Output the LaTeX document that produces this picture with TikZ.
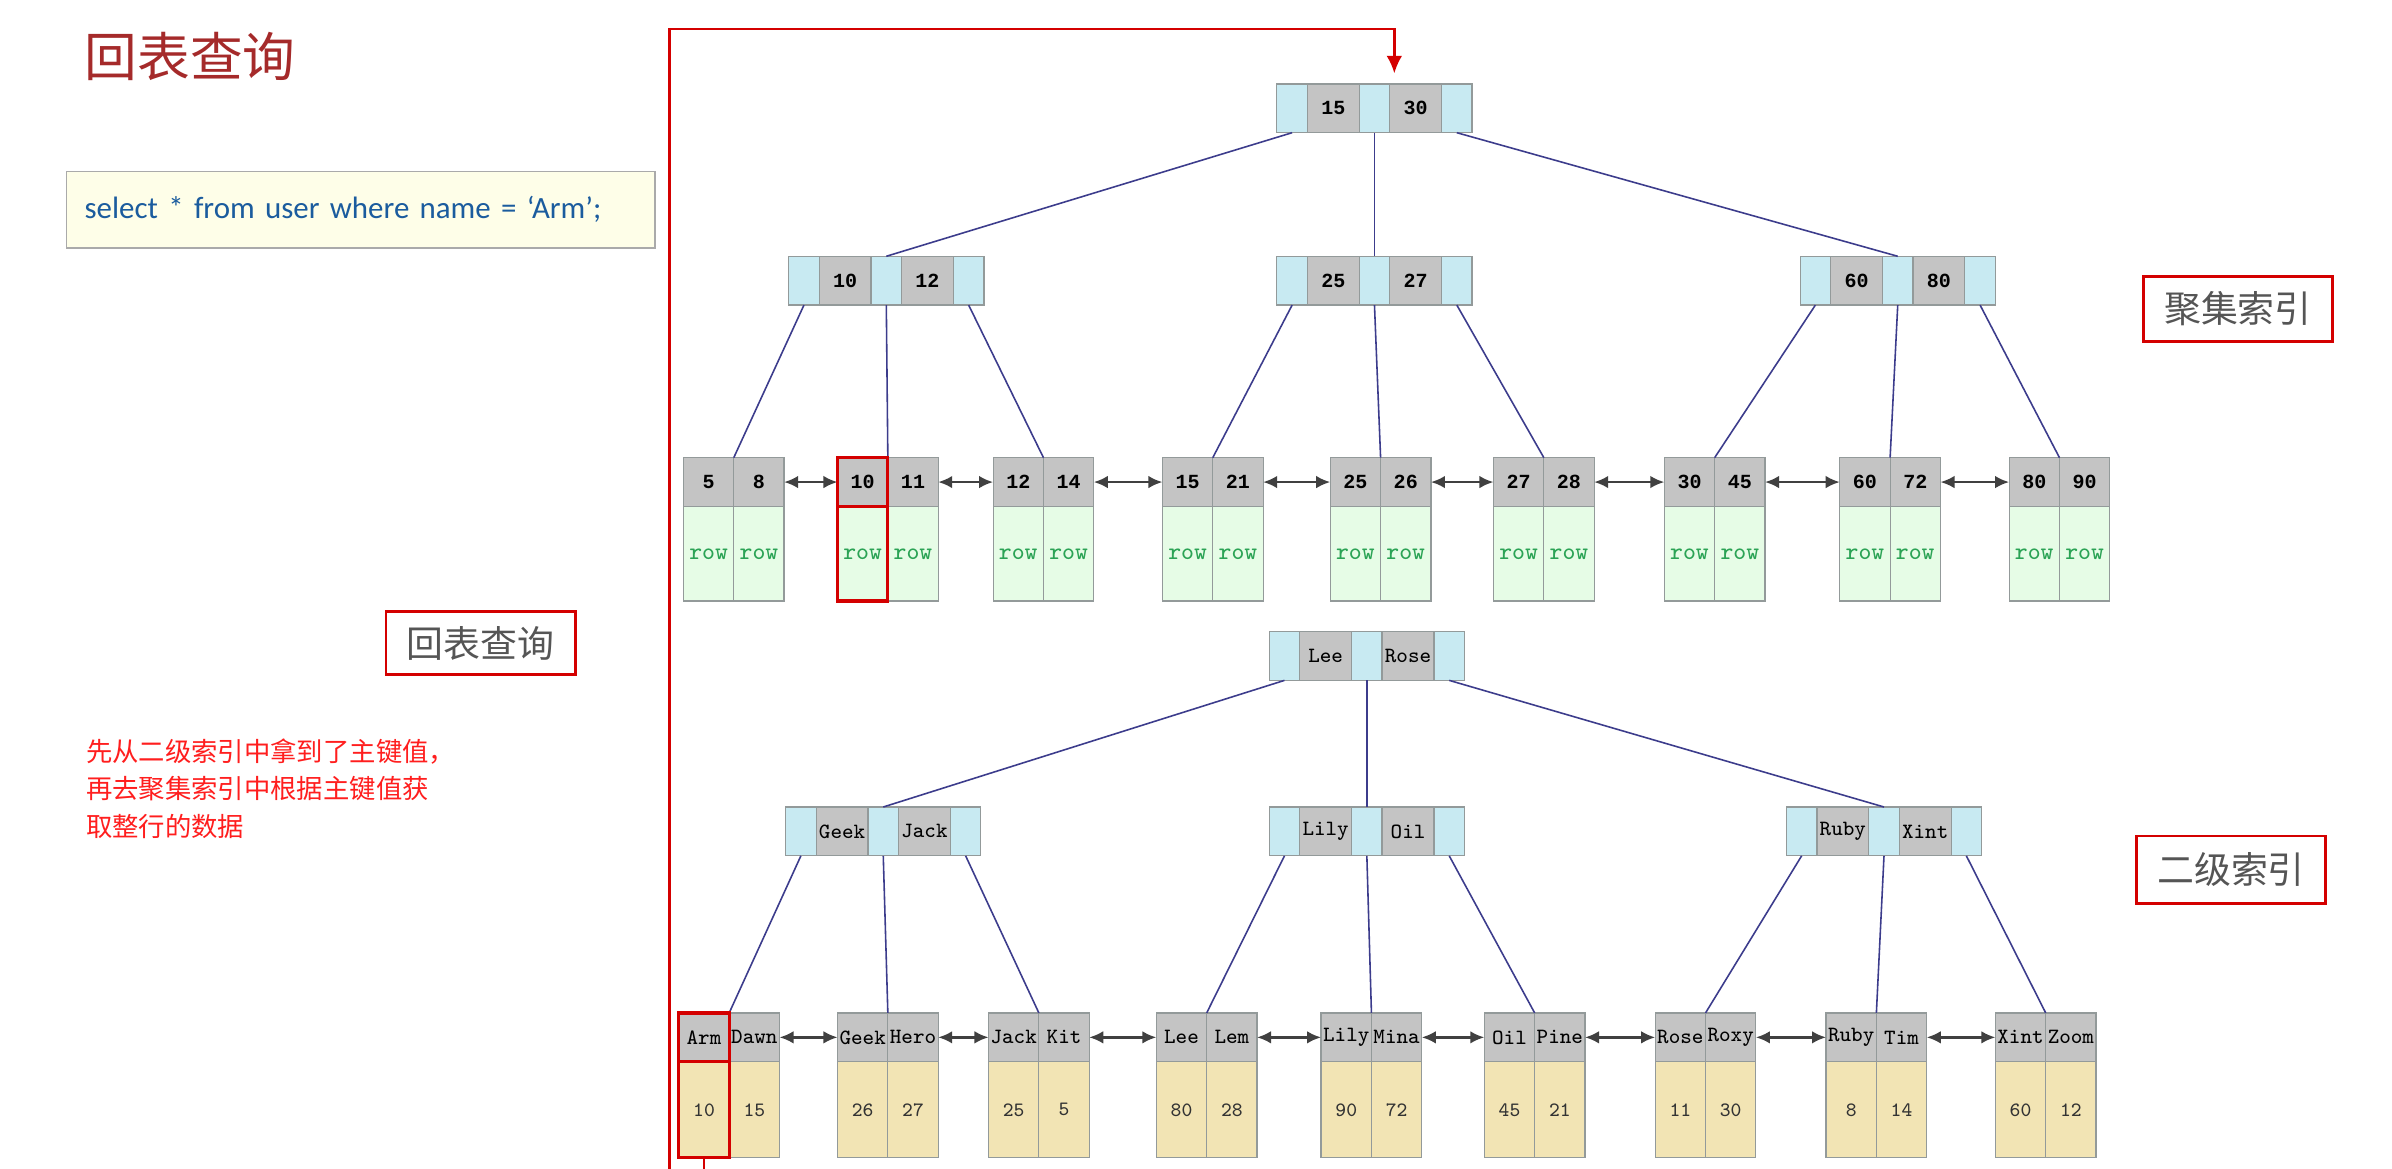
\documentclass[tikz,border=0pt]{standalone}
\usepackage{fontspec}
\usetikzlibrary{positioning,arrows.meta}
\newfontfamily\cjkfont{Noto Sans CJK SC}
\newfontfamily\sqlfont{Carlito}
\newfontfamily\keyfont{Liberation Mono}

\definecolor{sepblue}{HTML}{C8EAF2}
\definecolor{keygray}{HTML}{C4C4C4}
\definecolor{cellline}{HTML}{939A9A}
\definecolor{rowgreen}{HTML}{E6FCE6}
\definecolor{rowtext}{HTML}{2BA355}
\definecolor{valwheat}{HTML}{F2E4B4}
\definecolor{valtext}{HTML}{333333}
\definecolor{edgeblue}{HTML}{3C3C8C}
\definecolor{linkgray}{HTML}{404040}
\definecolor{hired}{HTML}{D40000}
\definecolor{titlered}{HTML}{A52A2A}
\definecolor{notered}{HTML}{FF1E1E}
\definecolor{labelgray}{HTML}{555555}
\definecolor{sqlfill}{HTML}{FEFEE8}
\definecolor{sqlline}{HTML}{AAAAAA}
\definecolor{sqltext}{HTML}{1B5C9E}

\newcommand{\pxu}{0.43405pt}

\tikzset{
	cellbase/.style={draw=cellline, line width=0.35pt, inner sep=0pt, outer sep=0pt},
	keytext/.style={font=\keyfont\bfseries\fontsize{5.7}{6}\selectfont},
	sepcell/.style={cellbase, fill=sepblue, minimum width=20*\pxu, minimum height=32*\pxu},
	keycell/.style={cellbase, fill=keygray, keytext, minimum width=34*\pxu, minimum height=32*\pxu},
	leafkey/.style={cellbase, fill=keygray, keytext, minimum width=33*\pxu, minimum height=32*\pxu},
	rowcell/.style={cellbase, fill=rowgreen, text=rowtext, font=\ttfamily\fontsize{6.9}{7}\selectfont, minimum width=33*\pxu, minimum height=62*\pxu},
	valcell/.style={cellbase, fill=valwheat, text=valtext, font=\ttfamily\fontsize{5.8}{6}\selectfont, minimum width=33*\pxu, minimum height=63*\pxu},
	treeedge/.style={draw=edgeblue, line width=0.45pt},
	linkarrow/.style={draw=linkgray, line width=0.7pt, {Latex[length=4pt,width=3.6pt]}-{Latex[length=4pt,width=3.6pt]}},
	hilite/.style={draw=hired, line width=0.9pt},
	redline/.style={draw=hired, line width=0.7pt},
	labelbox/.style={draw=hired, line width=0.8pt, fill=white, text=labelgray, font=\cjkfont\fontsize{10.5}{12}\selectfont, minimum width=124*\pxu, minimum height=43*\pxu},
}

% inner node: three pointer cells and two keys
\newcommand{\innernode}[5]{%
	\node[sepcell, anchor=north west] (#1-l) at (#2,#3) {};
	\node[keycell, right=0pt of #1-l] (#1-a) {#4};
	\node[sepcell, right=0pt of #1-a] (#1-m) {};
	\node[keycell, right=0pt of #1-m] (#1-b) {#5};
	\node[sepcell, right=0pt of #1-b] (#1-r) {};
}
% leaf: two keys over two data cells
\newcommand{\leafnode}[8]{%
	\node[leafkey, anchor=north west] (#1a) at (#2,#3) {#4};
	\node[leafkey, right=0pt of #1a] (#1b) {#5};
	\node[#8, below=0pt of #1a] (#1c) {#6};
	\node[#8, below=0pt of #1b] (#1d) {#7};
}

\begin{document}
\begin{tikzpicture}[x=0.015255cm, y=-0.015255cm]
	\useasboundingbox (0,0) rectangle (1568,766);
	\clip (0,0) rectangle (1568,766);
	\fill[white] (0,0) rectangle (1568,766);

	\node (title)[anchor=west, inner sep=0pt, text=titlered, font=\cjkfont\fontsize{15}{18}\selectfont] at (55,37) {回表查询};
	\node (sql)[anchor=north west, draw=sqlline, line width=0.4pt, fill=sqlfill, text=sqltext, font=\sqlfont\fontsize{8.8}{11}\selectfont, minimum width=386*\pxu, minimum height=50*\pxu, text width=362*\pxu, inner xsep=12*\pxu, align=left] at (43,112) {select * from user where name = ‘Arm’;};
	\node (note)[anchor=north west, inner sep=0pt, text=notered, align=left, font=\cjkfont\fontsize{7.5}{10.6}\selectfont] at (56,484) {先从二级索引中拿到了主键值，\\再去聚集索引中根据主键值获\\取整行的数据};

	\node (lblback)[labelbox, minimum height=41*\pxu] at (315,421.5) {回表查询};
	\node (lblclus)[labelbox] at (1467,202.5) {聚集索引};
	\node (lblsec)[labelbox, minimum height=44*\pxu] at (1462.5,570) {二级索引};

	% clustered index
	\innernode{ca}{837}{55}{15}{30}
	\innernode{cb}{517}{168}{10}{12}
	\innernode{cc}{837}{168}{25}{27}
	\innernode{cd}{1180}{168}{60}{80}
	\foreach \x/\ka/\kb [count=\i] in {448/5/8, 549/10/11, 651/12/14, 762/15/21, 872/25/26, 979/27/28, 1091/30/45, 1206/60/72, 1317/80/90}
		{\leafnode{cl\i}{\x}{300}{\ka}{\kb}{row}{row}{rowcell}}

	\draw[treeedge] (ca-l.south) -- (cb-m.north);
	\draw[treeedge] (ca-m.south) -- (cc-m.north);
	\draw[treeedge] (ca-r.south) -- (cd-m.north);
	\foreach \p [count=\i] in {cb-l,cb-m,cb-r,cc-l,cc-m,cc-r,cd-l,cd-m,cd-r}
		\draw[treeedge] (\p.south) -- (cl\i a.north east);
	\foreach \i in {1,...,8} {
		\pgfmathtruncatemacro{\j}{\i+1}
		\draw[linkarrow] (cl\i b.east) -- (cl\j a.west);
	}

	% secondary index
	\begin{scope}[keytext/.style={font=\ttfamily\fontsize{6.2}{7}\selectfont}]
	\innernode{sa}{832}{414}{Lee}{Rose}
	\innernode{sb}{515}{529}{Geek}{Jack}
	\innernode{sc}{832}{529}{Lily}{Oil}
	\innernode{sd}{1171}{529}{Ruby}{Xint}
	\foreach \x/\ka/\kb/\va/\vb [count=\i] in {445/Arm/Dawn/10/15, 549/Geek/Hero/26/27, 648/Jack/Kit/25/5, 758/Lee/Lem/80/28, 866/Lily/Mina/90/72, 973/Oil/Pine/45/21, 1085/Rose/Roxy/11/30, 1197/Ruby/Tim/8/14, 1308/Xint/Zoom/60/12}
		{\leafnode{sl\i}{\x}{664}{\ka}{\kb}{\va}{\vb}{valcell}}
	\end{scope}

	\draw[treeedge] (sa-l.south) -- (sb-m.north);
	\draw[treeedge] (sa-m.south) -- (sc-m.north);
	\draw[treeedge] (sa-r.south) -- (sd-m.north);
	\foreach \p [count=\i] in {sb-l,sb-m,sb-r,sc-l,sc-m,sc-r,sd-l,sd-m,sd-r}
		\draw[treeedge] (\p.south) -- (sl\i a.north east);
	\foreach \i in {1,...,8} {
		\pgfmathtruncatemacro{\j}{\i+1}
		\draw[linkarrow] (sl\i b.east) -- (sl\j a.west);
	}

	% highlighted lookup
	\draw[hilite] (cl2a.north west) rectangle (cl2a.south east);
	\draw[hilite] (cl2c.north west) rectangle (cl2c.south east);
	\draw[hilite] (sl1a.north west) rectangle (sl1a.south east);
	\draw[hilite] (sl1c.north west) rectangle (sl1c.south east);

	\coordinate (loopbot) at (439,780);
	\coordinate (looptop) at (914,19);
	\draw[redline, -{Latex[length=5pt,width=4.5pt]}, shorten >=3pt] (sl1c.south) |- (loopbot) |- (looptop) -- (looptop |- ca-b.north);
\end{tikzpicture}
\end{document}
